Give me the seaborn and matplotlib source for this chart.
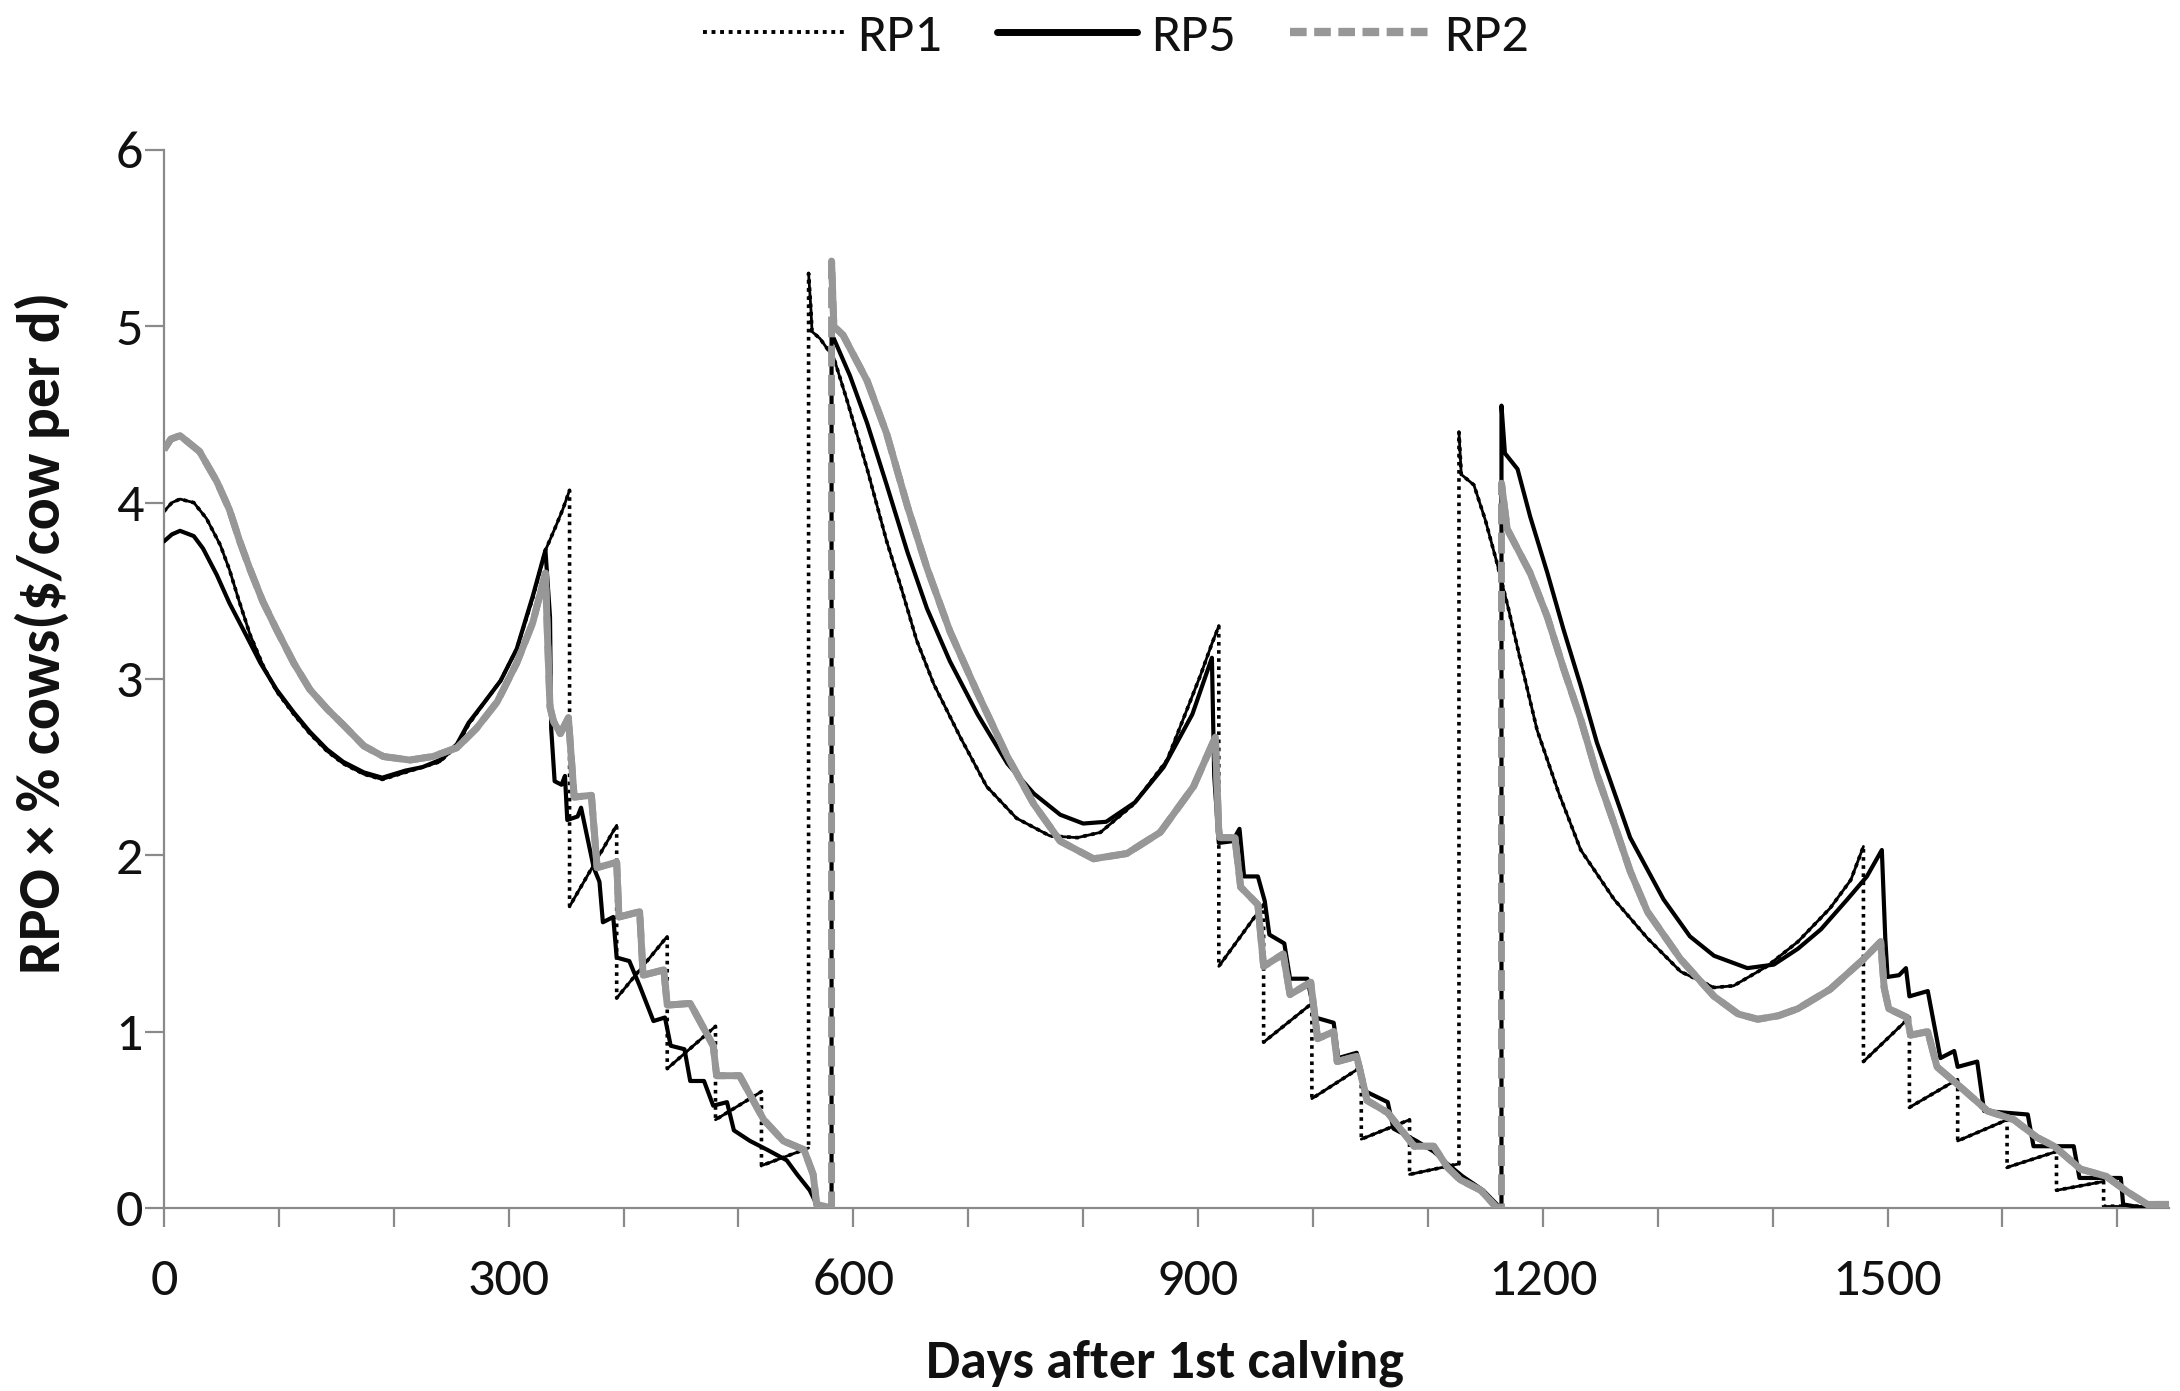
import numpy as np
import pandas as pd
import seaborn as sns
import matplotlib
matplotlib.use("Agg")
import matplotlib.pyplot as plt
from matplotlib.lines import Line2D
from matplotlib import font_manager
from matplotlib.ticker import FixedLocator

# ---------------- data ----------------
rp1_day = [0, 7, 14, 26, 37, 49, 57, 65, 75, 86, 98, 113, 127, 142, 156, 174, 190, 210, 225, 240,
           255, 265, 278, 293, 307, 321, 332, 340, 347, 353,
           353, 394, 394, 438, 438, 480, 480, 520, 520, 561,
           561, 563, 564, 571, 583, 594, 612, 629, 641, 655, 670, 693, 716, 742, 771, 795, 815, 844,
           873, 902, 912, 918,
           918, 957, 957, 999, 999, 1042, 1042, 1084, 1084, 1127,
           1127, 1129, 1140, 1150, 1160, 1170, 1180, 1195, 1214, 1233, 1262, 1291, 1320, 1349, 1366,
           1395, 1422, 1450, 1468, 1479,
           1479, 1519, 1519, 1561, 1561, 1604, 1604, 1647, 1647, 1688, 1688, 1723]
rp1_val = [3.95, 4.00, 4.02, 4.00, 3.91, 3.76, 3.62, 3.45, 3.25, 3.08, 2.93, 2.80, 2.69, 2.59, 2.52, 2.46, 2.43, 2.47, 2.50, 2.53,
           2.62, 2.74, 2.86, 2.99, 3.17, 3.46, 3.73, 3.85, 3.96, 4.07,
           1.71, 2.17, 1.19, 1.54, 0.79, 1.03, 0.50, 0.66, 0.24, 0.34,
           5.30, 5.10, 4.97, 4.93, 4.82, 4.59, 4.19, 3.78, 3.53, 3.22, 2.97, 2.67, 2.39, 2.21, 2.11, 2.10, 2.13, 2.29,
           2.54, 3.02, 3.20, 3.30,
           1.37, 1.72, 0.94, 1.16, 0.62, 0.80, 0.39, 0.50, 0.19, 0.25,
           4.40, 4.16, 4.10, 3.90, 3.66, 3.40, 3.12, 2.71, 2.35, 2.03, 1.75, 1.53, 1.34, 1.25, 1.26,
           1.37, 1.51, 1.70, 1.86, 2.05,
           0.83, 1.08, 0.57, 0.73, 0.38, 0.50, 0.23, 0.32, 0.10, 0.15, 0.01, 0.01]

rp5_day = [0, 7, 14, 26, 34, 46, 57, 69, 84, 98, 113, 127, 142, 156, 174, 190, 210, 225, 240,
           255, 265, 278, 293, 307, 321, 332, 336, 337, 340, 346, 349, 351, 360, 363, 374, 379, 382,
           391, 394, 405, 414, 426, 436, 441, 453, 458, 470, 478, 490, 496, 510, 525, 542, 551, 562,
           568, 581,
           581, 583, 597, 612, 629, 647, 664, 684, 708, 734, 757, 780, 800, 820, 845, 870, 895, 912,
           914, 918, 930, 936, 940, 952, 958, 962, 975, 980, 995, 1002, 1018, 1022, 1038, 1046, 1065,
           1070, 1090, 1105, 1117, 1130, 1148, 1160, 1164,
           1164, 1167, 1178, 1189, 1204, 1218, 1233, 1247, 1262, 1276, 1305, 1328, 1349, 1378, 1401,
           1422, 1442, 1465, 1482, 1495, 1498, 1500, 1510, 1516, 1519, 1535, 1546, 1558, 1561, 1578,
           1584, 1622, 1627, 1662, 1667, 1703, 1705, 1723]
rp5_val = [3.78, 3.82, 3.84, 3.81, 3.74, 3.59, 3.43, 3.28, 3.09, 2.94, 2.81, 2.70, 2.60, 2.53, 2.47, 2.44, 2.48, 2.50, 2.54,
           2.63, 2.75, 2.86, 2.99, 3.17, 3.47, 3.73, 3.35, 2.72, 2.42, 2.40, 2.45, 2.20, 2.22, 2.27, 1.93, 1.85, 1.62,
           1.65, 1.42, 1.40, 1.26, 1.06, 1.08, 0.92, 0.90, 0.72, 0.72, 0.58, 0.60, 0.44, 0.38, 0.33, 0.27, 0.19, 0.10,
           0.02, 0.00,
           4.95, 4.93, 4.72, 4.45, 4.10, 3.72, 3.40, 3.10, 2.80, 2.52, 2.35, 2.23, 2.18, 2.19, 2.30, 2.50, 2.80, 3.12,
           2.45, 2.07, 2.08, 2.15, 1.88, 1.88, 1.74, 1.55, 1.50, 1.30, 1.30, 1.08, 1.05, 0.85, 0.88, 0.66, 0.60,
           0.45, 0.38, 0.32, 0.25, 0.18, 0.10, 0.02, 0.00,
           4.55, 4.28, 4.19, 3.92, 3.60, 3.28, 2.96, 2.64, 2.36, 2.10, 1.75, 1.54, 1.43, 1.36, 1.38,
           1.47, 1.58, 1.75, 1.88, 2.03, 1.53, 1.31, 1.32, 1.36, 1.20, 1.23, 0.85, 0.89, 0.80, 0.83,
           0.55, 0.53, 0.35, 0.35, 0.17, 0.17, 0.02, 0.00]

rp2_day = [0, 6, 14, 31, 46, 57, 66, 75, 86, 98, 113, 127, 142, 156, 174, 191, 214, 234, 255, 272,
           290, 307, 321, 332, 334, 336, 339, 345, 352, 357, 372, 377, 394, 396, 414, 417, 435, 438,
           458, 478, 481, 501, 522, 539, 557, 565, 568, 581,
           581, 583, 591, 612, 629, 647, 664, 684, 708, 734, 757, 780, 809, 838, 867, 896, 915,
           918, 919, 932, 937, 952, 957, 974, 980, 998, 1004, 1018, 1021, 1038, 1047, 1065, 1088,
           1105, 1117, 1128, 1146, 1160, 1164,
           1164, 1169, 1189, 1204, 1218, 1233, 1247, 1262, 1276, 1291, 1320, 1349, 1370, 1387, 1405,
           1422, 1450, 1479, 1494, 1497, 1501, 1517, 1520, 1535, 1543, 1561, 1587, 1610, 1630, 1645,
           1668, 1690, 1709, 1726, 1746]
rp2_val = [4.30, 4.36, 4.38, 4.29, 4.12, 3.96, 3.78, 3.62, 3.44, 3.28, 3.09, 2.94, 2.83, 2.74, 2.62, 2.56, 2.54, 2.56, 2.61, 2.72,
           2.87, 3.09, 3.32, 3.60, 3.20, 2.84, 2.76, 2.69, 2.78, 2.33, 2.34, 1.93, 1.96, 1.65, 1.68, 1.32, 1.35, 1.15,
           1.16, 0.92, 0.75, 0.75, 0.50, 0.38, 0.33, 0.19, 0.02, 0.00,
           5.37, 5.00, 4.95, 4.69, 4.39, 3.98, 3.63, 3.27, 2.92, 2.56, 2.29, 2.08, 1.98, 2.01, 2.13, 2.39, 2.67,
           2.14, 2.10, 2.10, 1.82, 1.72, 1.37, 1.44, 1.21, 1.28, 0.96, 1.00, 0.83, 0.86, 0.61, 0.54, 0.35,
           0.35, 0.23, 0.16, 0.10, 0.00, 0.00,
           4.11, 3.85, 3.60, 3.35, 3.06, 2.77, 2.46, 2.18, 1.91, 1.68, 1.41, 1.20, 1.10, 1.07, 1.09,
           1.13, 1.24, 1.41, 1.51, 1.25, 1.13, 1.08, 0.98, 1.00, 0.80, 0.70, 0.55, 0.50, 0.40, 0.35,
           0.22, 0.18, 0.09, 0.02, 0.02]

series_names = ["RP1", "RP5", "RP2"]
x_label = "Days after 1st calving"
y_label = "RPO \u00d7 % cows($/cow per d)"
x_tick_labels = [0, 300, 600, 900, 1200, 1500]
y_tick_labels = [0, 1, 2, 3, 4, 5, 6]

# ---------------- style ----------------
sns.set_theme(style="white")
names = {f.name for f in font_manager.fontManager.ttflist}
fam = next((f for f in ["Carlito", "Liberation Sans Narrow", "Liberation Sans"] if f in names), "DejaVu Sans")
plt.rcParams["font.family"] = [fam, "DejaVu Sans"]

AX_COL = "#8a8a8a"
GRAY = "#979797"
TXT = "#111111"

fig = plt.figure(figsize=(21.8, 13.91), dpi=100)
ax = fig.add_axes([0.0752, 0.1316, 0.9198, 0.7606])


def frame(day, val):
    return pd.DataFrame({"day": np.asarray(day, float), "val": np.asarray(val, float)})


def segments(day, val):
    d = np.asarray(day, float)
    brk = np.r_[False, np.diff(d) == 0]
    return pd.DataFrame({"day": d, "val": np.asarray(val, float), "seg": np.cumsum(brk)})


# RP1: dotted (vertical jumps), thin solid look along dense curve portions
sns.lineplot(data=frame(rp1_day, rp1_val), x="day", y="val", estimator=None, sort=False,
             color="black", lw=2.6, linestyle=(0, (1.0, 1.25)), ax=ax, zorder=2)
sns.lineplot(data=segments(rp1_day, rp1_val), x="day", y="val", units="seg", estimator=None,
             sort=False, color="black", lw=2.0, ax=ax, zorder=2)

# RP5: solid black
sns.lineplot(data=frame(rp5_day, rp5_val), x="day", y="val", estimator=None, sort=False,
             color="black", lw=3.0, ax=ax, zorder=3)

# RP2: thick gray dashed (visible on vertical jumps), continuous on the curves
sns.lineplot(data=frame(rp2_day, rp2_val), x="day", y="val", estimator=None, sort=False,
             color=GRAY, lw=5.0, linestyle=(0, (3.0, 1.2)), ax=ax, zorder=4)
sns.lineplot(data=segments(rp2_day, rp2_val), x="day", y="val", units="seg", estimator=None,
             sort=False, color=GRAY, lw=5.0, ax=ax, zorder=4, solid_capstyle="butt")

# ---------------- axes ----------------
ax.set_xlim(0, 1745)
ax.set_ylim(0, 6)
sns.despine(ax=ax)
for s in ["left", "bottom"]:
    ax.spines[s].set_color(AX_COL)
    ax.spines[s].set_linewidth(1.6)

ax.set_xticks(x_tick_labels)
ax.set_xticklabels([str(v) for v in x_tick_labels])
ax.xaxis.set_minor_locator(FixedLocator(list(range(0, 1745, 100))))
ax.set_yticks(y_tick_labels)
ax.set_yticklabels([str(v) for v in y_tick_labels])

ax.tick_params(axis="x", which="both", bottom=True, direction="out", length=14, width=1.6,
               color=AX_COL, labelsize=39, labelcolor=TXT, pad=22)
ax.tick_params(axis="y", which="major", left=True, direction="out", length=14, width=1.6,
               color=AX_COL, labelsize=39, labelcolor=TXT, pad=1)

ax.set_xlabel(x_label, fontsize=39, fontweight="bold", color=TXT)
ax.xaxis.set_label_coords(0.4993, -0.1465)
ax.xaxis.label.set_va("center")
ax.set_ylabel(y_label, fontsize=43, fontweight="bold", color=TXT)
ax.yaxis.set_label_coords(-0.0608, 0.5435)
ax.yaxis.label.set_va("center")
ax.yaxis.label.set_ha("center")

# ---------------- legend ----------------
handles = [
    Line2D([], [], color="black", lw=2.8, linestyle=(0, (1.0, 1.2))),
    Line2D([], [], color="black", lw=5.0),
    Line2D([], [], color=GRAY, lw=6.0, linestyle=(0, (2.0, 0.9))),
]
fig.legend(handles, series_names, loc="center", bbox_to_anchor=(0.512, 0.974), ncol=3,
           frameon=False, fontsize=39, handlelength=2.6, handletextpad=0.25,
           columnspacing=1.0, labelcolor=TXT)

fig.savefig("out.png", dpi=100, facecolor="white")
